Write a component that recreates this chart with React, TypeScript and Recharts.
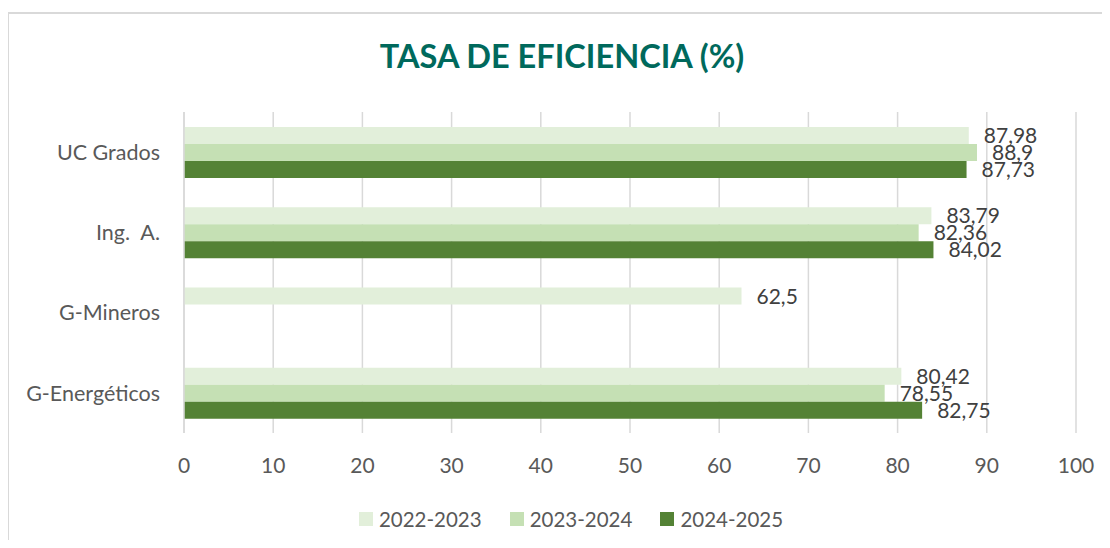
import React from "react";
import { BarChart, Bar, XAxis, YAxis, CartesianGrid, LabelList } from "recharts";

const categories = ["UC Grados", "Ing.\u00A0 A.", "G-Mineros", "G-Energéticos"];
const s2022 = [87.98, 83.79, 62.5, 80.42];
const s2023 = [88.9, 82.36, null, 78.55];
const s2024 = [87.73, 84.02, null, 82.75];
const seriesNames = ["2022-2023", "2023-2024", "2024-2025"];
const seriesColors = ["#E2EFDA", "#C5E0B4", "#548235"];
const xTicks = [0, 10, 20, 30, 40, 50, 60, 70, 80, 90, 100];

const data = categories.map((name, i) => ({
  name,
  a: s2022[i],
  b: s2023[i],
  c: s2024[i],
}));
const keys = ["a", "b", "c"];

const FONT = "Lato, 'Noto Sans', sans-serif";

const fmt = (v: any) => (v == null ? "" : String(v).replace(".", ","));

export default function App() {
  return (
    <div
      style={{
        position: "relative",
        width: 1102,
        height: 532,
        overflow: "hidden",
        fontFamily: FONT,
        background: "#fff",
      }}
    >
      <div
        style={{
          position: "absolute",
          left: -1,
          top: 4,
          width: 1300,
          height: 800,
          borderLeft: "2px solid #D9D9D9",
          borderTop: "2px solid #D9D9D9",
        }}
      />
      <div
        style={{
          position: "absolute",
          left: 0,
          width: 1102,
          top: 28,
          textAlign: "center",
          fontSize: 32.5,
          fontWeight: 700,
          color: "#00695C",
          lineHeight: "40px",
          paddingLeft: 6,
          boxSizing: "border-box",
        }}
      >
        TASA DE EFICIENCIA (%)
      </div>
      <div style={{ position: "absolute", left: 0, top: 0 }}>
        <BarChart
          width={1102}
          height={532}
          data={data}
          layout="vertical"
          margin={{ top: 104, right: 34, left: 0, bottom: 0 }}
          barCategoryGap="18.75%"
          barGap={0}
        >
          <CartesianGrid horizontal={false} stroke="#D9D9D9" strokeWidth={1.5} />
          <XAxis
            type="number"
            domain={[0, 100]}
            ticks={xTicks}
            axisLine={false}
            tickLine={false}
            tickSize={0}
            tickMargin={25}
            height={107}
            tick={{ fill: "#595959", fontSize: 21, fontFamily: FONT }}
          />
          <YAxis
            type="category"
            dataKey="name"
            width={176}
            axisLine={{ stroke: "#D9D9D9", strokeWidth: 1.5 }}
            tickLine={false}
            tickSize={0}
            tickMargin={24}
            tick={{ fill: "#595959", fontSize: 21.5, fontFamily: FONT }}
          />
          {keys.map((k, i) => (
            <Bar
              key={k}
              dataKey={k}
              name={seriesNames[i]}
              fill={seriesColors[i]}
              isAnimationActive={false}
            >
              <LabelList
                dataKey={k}
                position="right"
                offset={15}
                formatter={fmt}
                style={{ fill: "#404040", fontSize: 21, fontFamily: FONT }}
              />
            </Bar>
          ))}
        </BarChart>
      </div>
      <div
        style={{
          position: "absolute",
          left: 0,
          width: 1102,
          top: 499,
          height: 24,
          display: "flex",
          justifyContent: "center",
          alignItems: "center",
          fontSize: 20.5,
          color: "#595959",
          paddingLeft: 24,
          boxSizing: "border-box",
        }}
      >
        {seriesNames.map((n, i) => (
          <div
            key={n}
            style={{ display: "flex", alignItems: "center", marginRight: i < 2 ? 28 : 0 }}
          >
            <span
              style={{
                display: "inline-block",
                width: 14,
                height: 14,
                background: seriesColors[i],
                marginRight: 6,
              }}
            />
            <span>{n}</span>
          </div>
        ))}
      </div>
    </div>
  );
}
